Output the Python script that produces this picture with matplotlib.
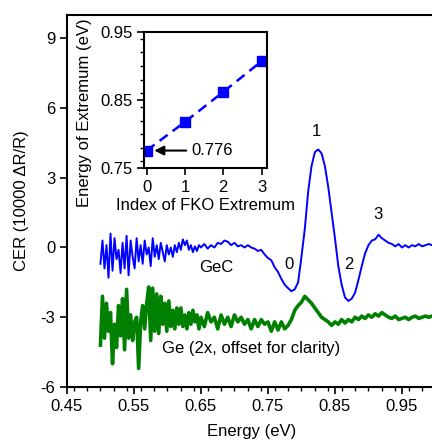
import numpy as np
import matplotlib
matplotlib.use("Agg")
import matplotlib.pyplot as plt
from matplotlib.ticker import MultipleLocator

plt.rcParams['font.family'] = ['Liberation Sans', 'DejaVu Sans']
plt.rcParams['font.size'] = 12

# photon energy grids (eV): fine grid in the noisy part, coarser afterwards
energy_noisy = np.round(np.arange(0.500, 0.6485, 0.003), 3)
energy_smooth = np.round(np.arange(0.650, 0.9975, 0.005), 3)
energy = np.concatenate([energy_noisy, energy_smooth])

# GeC spectrum (10000 dR/R)
gec_noisy = [-0.7, 0.3, -0.9, 0.1, -1.3, 0.6, -1.0, 0.4, -0.5, -0.1,
             -1.1, 0.2, -0.9, 0.5, -1.2, 0.3, -0.4, -0.9, 0.4, -0.6,
             0.1, -0.7, 0.3, -0.3, 0.0, -0.8, 0.4, -0.4, 0.1, -0.5,
             0.2, -0.2, -0.6, 0.1, -0.3, 0.0, -0.4, 0.1, -0.2, 0.2,
             -0.1, 0.35, 0.1, 0.3, -0.1, 0.1, -0.2, 0.05, -0.15, 0.1]
gec_smooth = [0.0, 0.15, -0.05, 0.1, 0.0, 0.2, 0.15, 0.3, 0.25, 0.1,
              0.2, 0.05, 0.1, 0.0, 0.1, 0.0, -0.05, -0.15, -0.1, -0.3,
              -0.45, -0.55, -0.85, -1.05, -1.35, -1.6, -1.75, -1.88, -1.8, -1.5,
              -0.4, 0.8, 2.4, 3.5, 4.1, 4.22, 4.05, 3.5, 2.6, 1.5,
              0.4, -0.8, -1.6, -2.15, -2.3, -2.2, -1.95, -1.4, -0.8, -0.25,
              0.1, 0.3, 0.35, 0.55, 0.4, 0.3, 0.2, 0.15, 0.05, 0.15,
              0.0, 0.1, 0.0, 0.1, 0.05, 0.15, 0.05, 0.1, 0.15, 0.1]
gec = gec_noisy + gec_smooth

# Ge spectrum (2x, offset by -3)
ge_noisy = [-4.2, -2.1, -3.9, -2.4, -3.6, -2.8, -5.0, -3.3, -4.3, -2.5,
            -3.8, -2.2, -4.4, -1.8, -3.9, -2.9, -4.0, -3.2, -3.0, -5.2,
            -3.2, -2.5, -3.5, -2.4, -1.7, -4.0, -1.75, -3.6, -2.0, -3.7,
            -2.1, -3.3, -2.4, -3.6, -2.3, -3.4, -2.7, -3.5, -2.6, -3.3,
            -2.6, -3.4, -2.9, -3.5, -2.8, -3.3, -2.7, -3.2, -2.9, -3.5]
ge_smooth = [-3.0, -3.4, -2.8, -3.2, -3.0, -3.5, -2.9, -3.3, -3.0, -3.4,
             -2.9, -3.2, -3.0, -3.3, -3.1, -3.5, -3.1, -3.4, -3.1, -3.3,
             -3.2, -3.6, -3.2, -3.55, -3.2, -3.5, -3.35, -3.1, -2.7, -2.5,
             -2.35, -2.1, -2.25, -2.4, -2.6, -2.8, -3.0, -3.1, -3.2, -3.35,
             -3.2, -3.3, -3.1, -3.25, -3.1, -3.2, -3.0, -3.1, -2.95, -3.05,
             -2.9, -3.0, -2.85, -2.95, -2.8, -2.9, -3.0, -3.05, -2.95, -3.1,
             -3.05, -3.0, -3.1, -3.0, -2.95, -3.05, -3.0, -2.95, -3.0, -2.95]
ge = ge_noisy + ge_smooth

# inset: FKO extrema
fko_index = [0, 1, 2, 3]
fko_energy = [0.776, 0.818, 0.862, 0.907]

fig = plt.figure(figsize=(4.32, 4.44), dpi=100)
ax = fig.add_axes([0.155, 0.1284, 0.853, 0.8378])

ax.plot(energy, gec, color='#0000ff', lw=1.4)
ax.plot(energy, ge, color='#008000', lw=2.6)

ax.set_xlim(0.45, 1.0)
ax.set_ylim(-6, 10)
ax.set_xticks([0.45, 0.55, 0.65, 0.75, 0.85, 0.95])
ax.set_yticks([-6, -3, 0, 3, 6, 9])
ax.set_yticklabels(['-6', '-3', '0', '3', '6', '9'])
ax.xaxis.set_minor_locator(MultipleLocator(0.02))
ax.tick_params(which='major', direction='out', length=5, width=1.2)
ax.tick_params(which='minor', direction='out', length=3, width=1.0)
for s in ax.spines.values():
    s.set_linewidth(1.5)
ax.set_xlabel('Energy (eV)', labelpad=7)
ax.set_ylabel('CER (10000 ΔR/R)', labelpad=8)

# labels on the curves
ax.text(0.673, -0.87, 'GeC', ha='center', va='center')
ax.text(0.725, -4.33, 'Ge (2x, offset for clarity)', ha='center', va='center')
ax.text(0.782, -0.73, '0', ha='center', va='center')
ax.text(0.822, 4.97, '1', ha='center', va='center')
ax.text(0.870, -0.73, '2', ha='center', va='center')
ax.text(0.914, 1.4, '3', ha='center', va='center')

# inset
ins = fig.add_axes([0.334, 0.621, 0.283, 0.307])
ins.plot(fko_index, fko_energy, color='#0000ff', lw=1.8, ls=(0, (4, 2.5)),
         marker='s', markersize=7.5)
ins.set_xlim(-0.06, 3.13)
ins.set_ylim(0.75, 0.95)
ins.set_xticks([0, 1, 2, 3])
ins.set_yticks([0.75, 0.85, 0.95])
ins.yaxis.set_minor_locator(MultipleLocator(0.02))
ins.tick_params(which='major', direction='out', length=5, width=1.2)
ins.tick_params(which='minor', direction='out', length=3, width=1.0)
for s in ins.spines.values():
    s.set_linewidth(1.5)
ins.set_xlabel('Index of FKO Extremum', labelpad=2)
ins.set_ylabel('Energy of Extremum (eV)')
ins.yaxis.set_label_coords(-0.43, 0.41)
ins.annotate('0.776', xy=(0.2, 0.776), xytext=(1.18, 0.776),
             ha='left', va='center',
             arrowprops=dict(arrowstyle='-|>', color='black', lw=1.5,
                             mutation_scale=14, shrinkA=2, shrinkB=0))

fig.savefig('out.png', dpi=100)
